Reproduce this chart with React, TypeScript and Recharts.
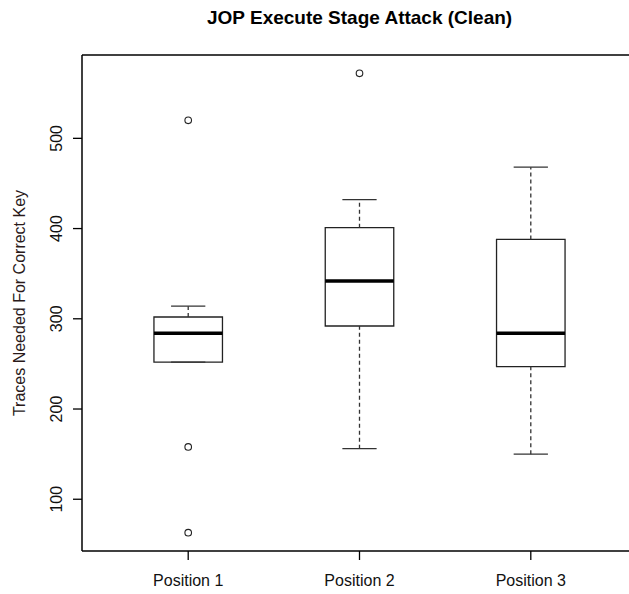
import React from 'react';
import { ComposedChart, XAxis, YAxis, ReferenceArea, ReferenceLine, Scatter } from 'recharts';

const categories = ['Position 1', 'Position 2', 'Position 3'];
const positions = [1, 2, 3];
const lowerWhisker = [252, 156, 150];
const q1 = [252, 292, 247];
const median = [284, 342, 284];
const q3 = [302, 401, 388];
const upperWhisker = [314, 432, 468];
const outlierPos = [1, 1, 1, 2];
const outlierVal = [520, 158, 63, 572];
const yTicks = [100, 200, 300, 400, 500];
const title = 'JOP Execute Stage Attack (Clean)';
const yLabel = 'Traces Needed For Correct Key';

const FONT = '"Liberation Sans", Arial, Helvetica, sans-serif';

const allVals = [...lowerWhisker, ...upperWhisker, ...outlierVal];
const yMin = Math.min(...allVals);
const yMax = Math.max(...allVals);
const yPad = (yMax - yMin) * 0.04;
const yDomain: [number, number] = [yMin - yPad, yMax + yPad];
const xLo = positions[0] - 0.5;
const xHi = positions[positions.length - 1] + 0.5;
const xPad = (xHi - xLo) * 0.04;
const xDomain: [number, number] = [xLo - xPad, xHi + xPad];

const outliers = outlierPos.map((x, i) => ({ x, y: outlierVal[i] }));

const BOX_HALF = 0.2;
const CAP_HALF = 0.1;

const YTick = (props: any) => {
  const { x, y, payload } = props;
  const x0 = x - 9;
  return (
    <text
      x={x0}
      y={y}
      transform={`rotate(-90, ${x0}, ${y})`}
      textAnchor="middle"
      fontSize={16}
      fontFamily={FONT}
      fill="#111"
    >
      {payload.value}
    </text>
  );
};

export default function App() {
  return (
    <div style={{ position: 'absolute', left: 0, top: 0, width: 629, height: 594, overflow: 'hidden', background: '#fff' }}>
      <ComposedChart width={660} height={594} margin={{ top: 55, right: 23, bottom: 0, left: 0 }}>
        <XAxis
          dataKey="x"
          type="number"
          domain={xDomain}
          ticks={positions}
          tickFormatter={(v: number) => categories[v - 1]}
          height={43}
          axisLine={false}
          tickSize={9}
          tickMargin={15}
          tickLine={{ stroke: '#000', strokeWidth: 1.3 }}
          tick={{ fontSize: 16, fontFamily: FONT, fill: '#111' }}
          allowDataOverflow
        />
        <YAxis
          type="number"
          domain={yDomain}
          ticks={yTicks}
          width={82}
          axisLine={false}
          tickSize={9}
          tickMargin={2}
          tickLine={{ stroke: '#000', strokeWidth: 1.3 }}
          tick={<YTick />}
          allowDataOverflow
        />
        <ReferenceLine
          segment={[{ x: xDomain[0], y: yDomain[1] }, { x: xDomain[1], y: yDomain[1] }]}
          stroke="#000"
          strokeWidth={1.5}
          ifOverflow="visible"
        />
        <ReferenceLine
          segment={[{ x: xDomain[0], y: yDomain[0] }, { x: xDomain[1], y: yDomain[0] }]}
          stroke="#000"
          strokeWidth={1.5}
          ifOverflow="visible"
        />
        <ReferenceLine
          segment={[{ x: xDomain[0], y: yDomain[0] }, { x: xDomain[0], y: yDomain[1] }]}
          stroke="#000"
          strokeWidth={1.5}
          ifOverflow="visible"
        />
        {positions.map((p, i) => (
          <ReferenceArea
            key={`box-${i}`}
            x1={p - BOX_HALF}
            x2={p + BOX_HALF}
            y1={q1[i]}
            y2={q3[i]}
            fill="none"
            fillOpacity={0}
            stroke="#222"
            strokeWidth={1.3}
            ifOverflow="visible"
          />
        ))}
        {positions.map((p, i) => (
          <ReferenceLine
            key={`wu-${i}`}
            segment={[{ x: p, y: q3[i] }, { x: p, y: upperWhisker[i] }]}
            stroke="#333"
            strokeWidth={1.3}
            strokeDasharray="4 3"
            ifOverflow="visible"
          />
        ))}
        {positions.map((p, i) => (
          <ReferenceLine
            key={`wl-${i}`}
            segment={[{ x: p, y: lowerWhisker[i] }, { x: p, y: q1[i] }]}
            stroke="#333"
            strokeWidth={1.3}
            strokeDasharray="4 3"
            ifOverflow="visible"
          />
        ))}
        {positions.map((p, i) => (
          <ReferenceLine
            key={`cu-${i}`}
            segment={[{ x: p - CAP_HALF, y: upperWhisker[i] }, { x: p + CAP_HALF, y: upperWhisker[i] }]}
            stroke="#333"
            strokeWidth={1.3}
            ifOverflow="visible"
          />
        ))}
        {positions.map((p, i) => (
          <ReferenceLine
            key={`cl-${i}`}
            segment={[{ x: p - CAP_HALF, y: lowerWhisker[i] }, { x: p + CAP_HALF, y: lowerWhisker[i] }]}
            stroke="#333"
            strokeWidth={1.3}
            ifOverflow="visible"
          />
        ))}
        {positions.map((p, i) => (
          <ReferenceLine
            key={`med-${i}`}
            segment={[{ x: p - BOX_HALF, y: median[i] }, { x: p + BOX_HALF, y: median[i] }]}
            stroke="#000"
            strokeWidth={3.5}
            ifOverflow="visible"
          />
        ))}
        <Scatter
          data={outliers}
          dataKey="y"
          isAnimationActive={false}
          shape={(props: any) => (
            <circle cx={props.cx} cy={props.cy} r={3.3} fill="none" stroke="#222" strokeWidth={1.1} />
          )}
        />
      </ComposedChart>
      <svg width={629} height={594} style={{ position: 'absolute', left: 0, top: 0, pointerEvents: 'none' }}>
        <text x={359.6} y={24} textAnchor="middle" fontSize={19} fontWeight="bold" fontFamily={FONT} fill="#000">
          {title}
        </text>
        <text
          x={25}
          y={303}
          transform="rotate(-90, 25, 303)"
          textAnchor="middle"
          fontSize={16}
          fontFamily={FONT}
          fill="#2a1a1a"
        >
          {yLabel}
        </text>
      </svg>
    </div>
  );
}
